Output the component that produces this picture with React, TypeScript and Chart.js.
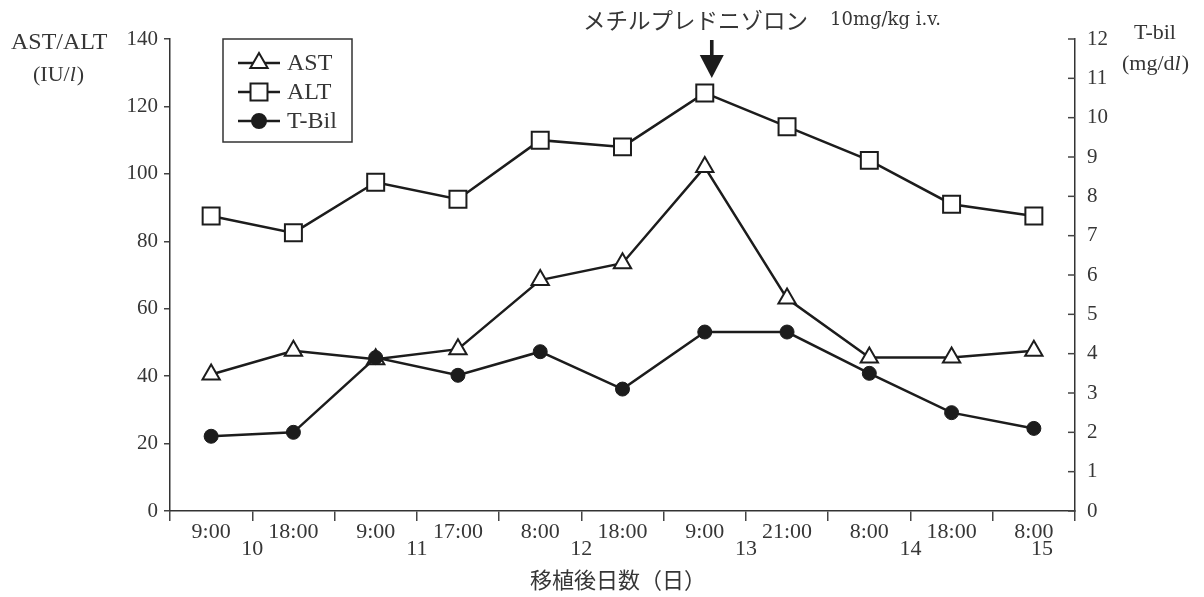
import React, { useEffect, useRef } from 'react';
import { Chart, registerables } from 'chart.js';

Chart.register(...registerables);

// ---- data ----
const timeLabels = ['9:00', '18:00', '9:00', '17:00', '8:00', '18:00', '9:00', '21:00', '8:00', '18:00', '8:00'];
const dayLabels = ['10', '11', '12', '13', '14', '15'];
const daySlots = [0.5, 2.5, 4.5, 6.5, 8.5, 10.1];
const astValues = [40.5, 47.5, 45, 48, 68.5, 73.5, 102, 63, 45.5, 45.5, 47.5];
const altValues = [87.5, 82.5, 97.5, 92.5, 110, 108, 124, 114, 104, 91, 87.5];
const tbilValues = [1.9, 2.0, 3.9, 3.45, 4.05, 3.1, 4.55, 4.55, 3.5, 2.5, 2.1];
const seriesNames = ['AST', 'ALT', 'T-Bil'];
const arrowSlot = 6;
const annotationJa = 'メチルプレドニゾロン';
const annotationDose = '10mg/kg i.v.';
const xTitle = '移植後日数（日）';

const SERIF = '"Liberation Serif", "Times New Roman", serif';
const WIDE_SERIF = '"DejaVu Serif", serif';
const CJK = '"Noto Sans CJK JP", sans-serif';
const INK = '#363636';
const LINE = '#1c1c1c';

function drawMarker(ctx: CanvasRenderingContext2D, style: string, x: number, y: number, r: number, fill: string) {
  ctx.save();
  ctx.beginPath();
  if (style === 'triangle') {
    for (let i = 0; i < 3; i++) {
      const a = (i * 2 * Math.PI) / 3;
      const px = x + Math.sin(a) * r;
      const py = y - Math.cos(a) * r;
      if (i === 0) ctx.moveTo(px, py);
      else ctx.lineTo(px, py);
    }
    ctx.closePath();
  } else if (style === 'rect') {
    const s = Math.SQRT1_2 * r;
    ctx.rect(x - s, y - s, 2 * s, 2 * s);
  } else {
    ctx.arc(x, y, r, 0, Math.PI * 2);
  }
  ctx.fillStyle = fill;
  ctx.fill();
  ctx.lineWidth = 2;
  ctx.strokeStyle = LINE;
  ctx.stroke();
  ctx.restore();
}

const decorPlugin = {
  id: 'decor',
  afterDraw(chart: any) {
    const ctx: CanvasRenderingContext2D = chart.ctx;
    const xs = chart.scales.x;
    const y1 = chart.scales.y1;
    const area = chart.chartArea;
    ctx.save();
    ctx.fillStyle = INK;
    ctx.textBaseline = 'middle';

    // left axis title
    ctx.font = `24px ${SERIF}`;
    ctx.textAlign = 'left';
    ctx.fillText('AST/ALT', 11, 43);
    ctx.font = `22px ${SERIF}`;
    let t = '(IU/';
    ctx.fillText(t, 33, 75);
    let w = ctx.measureText(t).width;
    ctx.font = `italic 22px ${SERIF}`;
    ctx.fillText('l', 33 + w, 75);
    let w2 = ctx.measureText('l').width;
    ctx.font = `22px ${SERIF}`;
    ctx.fillText(')', 33 + w + w2 + 1, 75);

    // right axis title
    ctx.font = `22px ${SERIF}`;
    ctx.fillText('T-bil', 1134, 33);
    t = '(mg/d';
    ctx.fillText(t, 1122, 64);
    w = ctx.measureText(t).width;
    ctx.font = `italic 22px ${SERIF}`;
    ctx.fillText('l', 1122 + w, 64);
    w2 = ctx.measureText('l').width;
    ctx.font = `22px ${SERIF}`;
    ctx.fillText(')', 1122 + w + w2 + 1, 64);

    // annotation
    ctx.font = `22.5px ${CJK}`;
    ctx.fillText(annotationJa, 583, 20);
    ctx.font = `18px ${WIDE_SERIF}`;
    ctx.fillText(annotationDose, 830, 20);

    // arrow
    const ax = xs.getPixelForValue(arrowSlot) + 7;
    ctx.fillStyle = LINE;
    ctx.fillRect(ax - 1.8, 40, 3.6, 18);
    ctx.beginPath();
    ctx.moveTo(ax - 12, 55);
    ctx.lineTo(ax + 12, 55);
    ctx.lineTo(ax, 78);
    ctx.closePath();
    ctx.fill();

    // day labels
    ctx.fillStyle = INK;
    ctx.font = `22px ${SERIF}`;
    ctx.textAlign = 'center';
    dayLabels.forEach((d, i) => {
      ctx.fillText(d, xs.getPixelForValue(daySlots[i]), 549);
    });

    // x title
    ctx.font = `22px ${CJK}`;
    ctx.fillText(xTitle, 618, 580);

    // inward ticks on right axis
    ctx.strokeStyle = '#444';
    ctx.lineWidth = 1.5;
    y1.ticks.forEach((tk: any) => {
      const py = y1.getPixelForValue(tk.value);
      ctx.beginPath();
      ctx.moveTo(area.right - 7, py);
      ctx.lineTo(area.right, py);
      ctx.stroke();
    });

    // legend
    ctx.strokeStyle = '#333';
    ctx.lineWidth = 1.5;
    ctx.strokeRect(223, 39, 129, 103);
    const rows = [63, 92, 121];
    chart.data.datasets.forEach((ds: any, i: number) => {
      const y = rows[i];
      ctx.strokeStyle = LINE;
      ctx.lineWidth = 2.5;
      ctx.beginPath();
      ctx.moveTo(238, y);
      ctx.lineTo(280, y);
      ctx.stroke();
      drawMarker(ctx, ds.pointStyle, 259, y, ds.pointRadius, ds.pointBackgroundColor);
      ctx.fillStyle = INK;
      ctx.font = `24px ${SERIF}`;
      ctx.textAlign = 'left';
      ctx.fillText(seriesNames[i], 287, y + 1);
    });

    ctx.restore();
  },
};

export default function App() {
  const ref = useRef<HTMLCanvasElement | null>(null);
  useEffect(() => {
    document.body.style.margin = '0';
    if (!ref.current) return;
    const chart = new Chart(ref.current, {
      type: 'line',
      data: {
        labels: timeLabels,
        datasets: [
          {
            label: seriesNames[0],
            data: astValues,
            yAxisID: 'y',
            borderColor: LINE,
            borderWidth: 2.5,
            pointStyle: 'triangle',
            pointRadius: 10,
            pointBackgroundColor: '#ffffff',
            pointBorderColor: LINE,
            pointBorderWidth: 2,
            tension: 0,
            order: 2,
          },
          {
            label: seriesNames[1],
            data: altValues,
            yAxisID: 'y',
            borderColor: LINE,
            borderWidth: 2.5,
            pointStyle: 'rect',
            pointRadius: 12,
            pointBackgroundColor: '#ffffff',
            pointBorderColor: LINE,
            pointBorderWidth: 2,
            tension: 0,
            order: 3,
          },
          {
            label: seriesNames[2],
            data: tbilValues,
            yAxisID: 'y1',
            borderColor: LINE,
            borderWidth: 2.5,
            pointStyle: 'circle',
            pointRadius: 7,
            pointBackgroundColor: LINE,
            pointBorderColor: LINE,
            pointBorderWidth: 1,
            tension: 0,
            order: 1,
          },
        ] as any,
      },
      options: {
        responsive: false,
        animation: false,
        layout: { padding: { top: 39, left: 0, right: 0, bottom: 0 } },
        plugins: { legend: { display: false }, tooltip: { enabled: false } },
        scales: {
          x: {
            type: 'category',
            offset: true,
            grid: { offset: true, drawOnChartArea: false, drawTicks: true, tickLength: 10, color: '#444', lineWidth: 1.5 },
            border: { display: true, color: '#333', width: 1.5 },
            ticks: { font: { family: SERIF, size: 22 }, color: INK, padding: -2, maxRotation: 0, autoSkip: false },
            afterFit: (s: any) => { s.height = 86; },
          },
          y: {
            position: 'left',
            min: 0,
            max: 140,
            ticks: { stepSize: 20, font: { family: SERIF, size: 21 }, color: INK, padding: 6 },
            grid: { drawOnChartArea: false, drawTicks: true, tickLength: 6, color: '#444', lineWidth: 1.5 },
            border: { display: true, color: '#333', width: 1.5 },
            afterFit: (s: any) => { s.width = 170; },
          },
          y1: {
            position: 'right',
            min: 0,
            max: 12,
            ticks: { stepSize: 1, font: { family: SERIF, size: 21 }, color: INK, padding: 12 },
            grid: { drawOnChartArea: false, drawTicks: false },
            border: { display: true, color: '#333', width: 1.5 },
            afterFit: (s: any) => { s.width = 129; },
          },
        },
      } as any,
      plugins: [decorPlugin],
    });
    return () => chart.destroy();
  }, []);
  return (
    <div style={{ width: 1204, height: 597, background: '#fff' }}>
      <canvas ref={ref} width={1204} height={597} style={{ display: 'block' }} />
    </div>
  );
}
